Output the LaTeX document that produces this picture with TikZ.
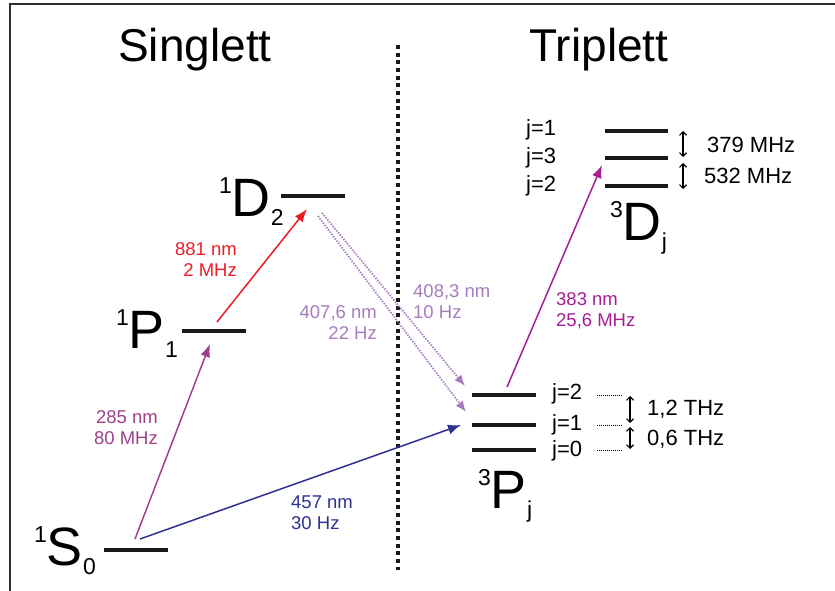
\documentclass[tikz,border=0pt]{standalone}
\usepackage{fontspec}
\setmainfont{Liberation Sans}
\usetikzlibrary{arrows.meta}
\definecolor{cfrm}{RGB}{45,45,45}
\definecolor{cA}{RGB}{158,64,140}
\definecolor{cR}{RGB}{237,28,36}
\definecolor{cB}{RGB}{46,49,146}
\definecolor{cL}{RGB}{166,124,190}
\definecolor{cM}{RGB}{165,30,150}
\newcommand\termlbl[3]{{\fontsize{23}{23}\selectfont\raisebox{23pt}{#1}}{\fontsize{54}{54}\selectfont #2}{\fontsize{23}{23}\selectfont\raisebox{-9.5pt}{#3}}}
\begin{document}
\begin{tikzpicture}[x=1pt,y=-1pt,
  level/.style={line width=4.2pt,black!90},
  trans/.style={line width=1.5pt,-{Latex[length=13pt,width=10pt]}},
  decay/.style={line width=1.8pt,dash pattern=on 1.4pt off 1.4pt,-{Latex[length=11pt,width=9pt]}},
  term/.style={inner sep=0pt,anchor=base west},
  title/.style={inner sep=0pt,anchor=base,font=\fontsize{46}{46}\selectfont},
  lbl/.style={inner sep=0pt,font=\fontsize{18.5}{21}\selectfont},
  jlbl/.style={inner sep=0pt,anchor=west,font=\fontsize{22}{22}\selectfont},
  split/.style={line width=1.1pt,{Straight Barb[length=3.5pt,width=7pt]}-{Straight Barb[length=3.5pt,width=7pt]}},
  guide/.style={line width=0.9pt,dash pattern=on 1pt off 1pt}]
\useasboundingbox (0,0) rectangle (835,591);
% frame
\draw[cfrm,line width=2pt] (10,595) -- (10,4) -- (840,4);
% titles
\node[title] (tS) at (195,62) {Singlett};
\node[title] (tT) at (599,62) {Triplett};
% separator
\coordinate (sepT) at (398,45);
\coordinate (sepB) at (398,570);
\draw[line width=4pt,dash pattern=on 4pt off 3.67pt,black!90] (sepT) -- (sepB);
% level coordinates
\coordinate (S0a) at (104,550); \coordinate (S0b) at (168,550);
\coordinate (P1a) at (182,331); \coordinate (P1b) at (246,331);
\coordinate (D2a) at (281,196); \coordinate (D2b) at (345,196);
\coordinate (P2a) at (472,395); \coordinate (P2b) at (536,395);
\coordinate (P1ta) at (472,425); \coordinate (P1tb) at (536,425);
\coordinate (P0a) at (472,450); \coordinate (P0b) at (536,450);
\coordinate (D1a) at (605,131); \coordinate (D1b) at (668,131);
\coordinate (D3a) at (605,158); \coordinate (D3b) at (668,158);
\coordinate (Dja) at (605,186); \coordinate (Djb) at (668,186);
\foreach \a/\b in {S0a/S0b,P1a/P1b,D2a/D2b,P2a/P2b,P1ta/P1tb,P0a/P0b,D1a/D1b,D3a/D3b,Dja/Djb}
  \draw[level] (\a) -- (\b);
% term labels
\node[term] (lS0) at (34,565) {\termlbl{1}{S}{0}};
\node[term] (lP1) at (116,348) {\termlbl{1}{P}{1}};
\node[term] (lD2) at (219,216) {\termlbl{1}{D}{2}};
\node[term] (lPj) at (478,508) {\termlbl{3}{P}{j}};
\node[term] (lDj) at (610,240) {\termlbl{3}{D}{j}};
% transition endpoints
\coordinate (a285s) at (135,539); \coordinate (a285e) at (210,344);
\coordinate (a457s) at (140,539); \coordinate (a457e) at (461,425);
\coordinate (a881s) at (217,322); \coordinate (a881e) at (307,209);
\coordinate (a383s) at (507,387); \coordinate (a383e) at (602,165);
\coordinate (d1s) at (322,213); \coordinate (d1e) at (465,386);
\coordinate (d2s) at (318,216); \coordinate (d2e) at (466,412);
\draw[trans,cA] (a285s) -- (a285e);
\draw[trans,cB] (a457s) -- (a457e);
\draw[trans,cR] (a881s) -- (a881e);
\draw[trans,cM] (a383s) -- (a383e);
\draw[decay,cL] (d1s) -- (d1e);
\draw[decay,cL] (d2s) -- (d2e);
% transition labels
\node[lbl,cR,align=right,anchor=north east] (t881) at (237,242.5) {881 nm\\2 MHz};
\node[lbl,cA,align=right,anchor=north east] (t285) at (158,410) {285 nm\\80 MHz};
\node[lbl,cL,align=right,anchor=north east] (t407) at (377,305) {407,6 nm\\22 Hz};
\node[lbl,cL,align=left,anchor=north west] (t408) at (413,284) {408,3 nm\\10 Hz};
\node[lbl,cM,align=left,anchor=north west] (t383) at (556,292) {383 nm\\25,6 MHz};
\node[lbl,cB,align=left,anchor=north west] (t457) at (291,496) {457 nm\\30 Hz};
% 3P fine structure
\node[jlbl] (jP2) at (552,394) {j=2};
\node[jlbl] (jP1) at (552,425) {j=1};
\node[jlbl] (jP0) at (552,451) {j=0};
\coordinate (g2a) at (597,395); \coordinate (g2b) at (623,395);
\coordinate (g1a) at (597,425); \coordinate (g1b) at (623,425);
\coordinate (g0a) at (597,450); \coordinate (g0b) at (623,450);
\draw[guide] (g2a) -- (g2b);
\draw[guide] (g1a) -- (g1b);
\draw[guide] (g0a) -- (g0b);
\coordinate (sp1a) at (630,396); \coordinate (sp1b) at (630,423);
\coordinate (sp2a) at (630,427); \coordinate (sp2b) at (630,449);
\draw[split] (sp1a) -- (sp1b);
\draw[split] (sp2a) -- (sp2b);
\node[jlbl,anchor=base west] (f12) at (647,415.5) {1,2 THz};
\node[jlbl,anchor=base west] (f06) at (647,445) {0,6 THz};
% 3D fine structure
\node[jlbl] (jD1) at (526,130) {j=1};
\node[jlbl] (jD3) at (526,158) {j=3};
\node[jlbl] (jD2) at (526,186) {j=2};
\coordinate (sp3a) at (683,131); \coordinate (sp3b) at (683,157);
\coordinate (sp4a) at (683,163); \coordinate (sp4b) at (683,189);
\draw[split] (sp3a) -- (sp3b);
\draw[split] (sp4a) -- (sp4b);
\node[jlbl,anchor=base west] (f379) at (707,153) {379 MHz};
\node[jlbl,anchor=base west] (f532) at (704,183) {532 MHz};
\end{tikzpicture}
\end{document}
